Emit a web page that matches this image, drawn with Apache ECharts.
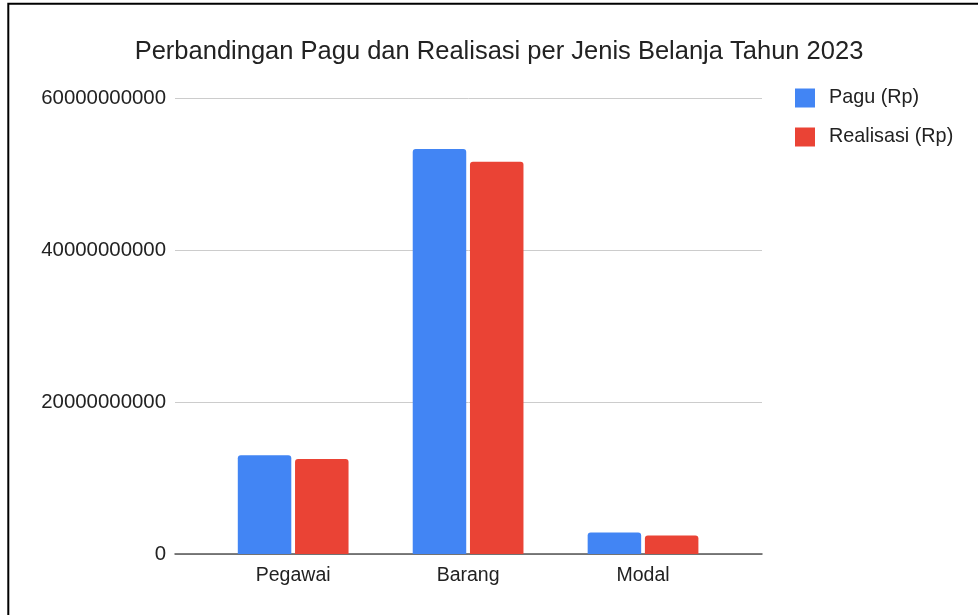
<!DOCTYPE html>
<html>
<head>
<meta charset="utf-8">
<script src="https://cdn.jsdelivr.net/npm/echarts@6/dist/echarts.min.js"></script>
<style>
  html, body { margin: 0; padding: 0; background: #fff; }
  #chart { width: 978px; height: 615px; }
</style>
</head>
<body>
<div id="chart"></div>
<script>
// data
const categories = ['Pegawai', 'Barang', 'Modal']
const pagu = [13000000000, 53300000000, 2840000000]
const realisasi = [12500000000, 51600000000, 2450000000]
const seriesNames = ['Pagu (Rp)', 'Realisasi (Rp)']
const yTicks = { min: 0, max: 60000000000, interval: 20000000000 }

const font = 'Arial, "Liberation Sans", sans-serif'
const chart = echarts.init(document.getElementById('chart'), null, { renderer: 'canvas' })

const option = {
  animation: false,
  color: ['#4285F4', '#EA4335'],
  textStyle: { fontFamily: font },
  title: {
    text: 'Perbandingan Pagu dan Realisasi per Jenis Belanja Tahun 2023',
    left: 494,
    top: 34,
    textAlign: 'center',
    textStyle: { fontSize: 25.5, fontWeight: 'normal', color: '#222', fontFamily: font }
  },
  legend: {
    orient: 'vertical',
    left: 790,
    top: 83,
    itemWidth: 20,
    itemHeight: 19,
    itemGap: 19,
    icon: 'rect',
    data: seriesNames,
    textStyle: { fontSize: 19.8, color: '#222', padding: [0, 0, 0, 9], fontFamily: font }
  },
  // two grids: the wide one carries gridlines, the narrow one the bars
  grid: [
    { left: 175, right: 216, top: 98, bottom: 61 },
    { left: 205.7, right: 247.5, top: 98, bottom: 61 }
  ],
  xAxis: [
    {
      gridIndex: 0,
      type: 'category',
      data: categories,
      axisLine: { show: true, lineStyle: { color: '#555', width: 1.5 } },
      axisTick: { show: false },
      axisLabel: { show: false }
    },
    {
      gridIndex: 1,
      type: 'category',
      data: categories,
      axisLine: { show: false },
      axisTick: { show: false },
      axisLabel: { margin: 12, fontSize: 19.5, color: '#222', fontFamily: font }
    }
  ],
  yAxis: [
    {
      gridIndex: 0,
      type: 'value',
      min: yTicks.min,
      max: yTicks.max,
      interval: yTicks.interval,
      axisLine: { show: false },
      axisTick: { show: false },
      splitLine: { lineStyle: { color: '#cccccc' } },
      axisLabel: {
        margin: 9,
        fontSize: 20.4,
        color: '#222',
        fontFamily: font,
        formatter: function (v) { return String(v) }
      }
    },
    {
      gridIndex: 1,
      type: 'value',
      min: yTicks.min,
      max: yTicks.max,
      interval: yTicks.interval,
      show: false
    }
  ],
  series: [
    {
      name: seriesNames[0],
      type: 'bar',
      xAxisIndex: 1,
      yAxisIndex: 1,
      data: pagu,
      barWidth: 53.5,
      barGap: '7%',
      itemStyle: { borderRadius: [3, 3, 0, 0] }
    },
    {
      name: seriesNames[1],
      type: 'bar',
      xAxisIndex: 1,
      yAxisIndex: 1,
      data: realisasi,
      barWidth: 53.5,
      barGap: '7%',
      itemStyle: { borderRadius: [3, 3, 0, 0] }
    }
  ],
  graphic: [
    {
      type: 'rect',
      silent: true,
      shape: { x: 8.3, y: 3.7, width: 1000, height: 700 },
      style: { fill: 'none', stroke: '#000', lineWidth: 2 }
    }
  ]
}

chart.setOption(option)
</script>
</body>
</html>
